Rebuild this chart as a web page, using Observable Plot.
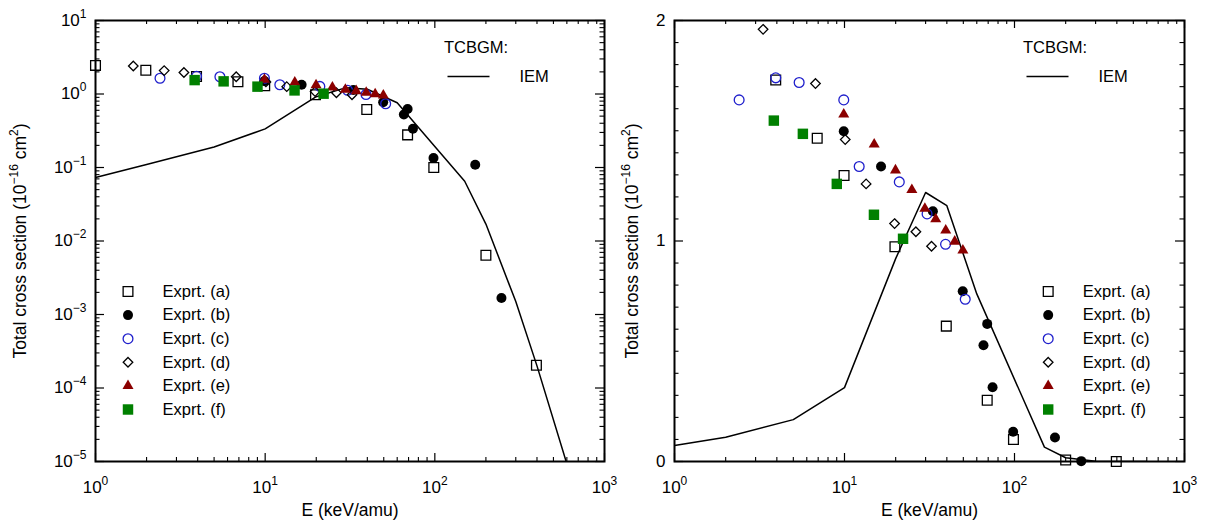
<!DOCTYPE html>
<html><head><meta charset="utf-8">
<script src="https://cdn.jsdelivr.net/npm/d3@7"></script>
<script src="https://cdn.jsdelivr.net/npm/@observablehq/plot@0.6"></script>
<style>
body{margin:0;background:#fff;}
#wrap{position:relative;width:1205px;height:522px;overflow:hidden;background:#fff;}
#wrap svg{position:absolute;top:0;}
</style></head><body><div id="wrap"></div>
<script>
// ---- data (E in keV/amu, cross section in 1e-16 cm^2) ----
const aE = [1.0, 1.98, 3.94, 6.91, 9.94, 19.8, 39.7, 69.1, 98.6, 200, 397];
const aS = [2.45, 2.10, 1.73, 1.466, 1.297, 0.974, 0.614, 0.278, 0.10, 0.0064, 0.000204];
const bE = [9.9, 16.4, 33.1, 49.6, 65.7, 69.1, 74.3, 98.2, 173, 247];
const bS = [1.498, 1.338, 1.135, 0.772, 0.527, 0.624, 0.337, 0.135, 0.109, 0.00168];
const cE = [2.40, 3.94, 5.41, 9.9, 12.2, 21.0, 30.6, 39.3, 51.3];
const cS = [1.64, 1.74, 1.719, 1.64, 1.338, 1.268, 1.123, 0.985, 0.736];
const dE = [1.67, 2.54, 3.32, 6.75, 10.1, 13.4, 19.7, 26.3, 32.5];
const dS = [2.40, 2.08, 1.96, 1.714, 1.46, 1.259, 1.079, 1.042, 0.976];
const eE = [9.9, 14.95, 19.95, 24.9, 29.7, 34.4, 39.4, 44.5, 49.7];
const eS = [1.574, 1.438, 1.321, 1.232, 1.147, 1.099, 1.048, 0.998, 0.958];
const fE = [3.84, 5.69, 9.01, 14.9, 22.1];
const fS = [1.546, 1.486, 1.259, 1.119, 1.01];
const iemE = [1, 2, 5, 10, 20, 30, 40, 60, 150, 200, 300, 400, 600];
const iemS = [0.073, 0.11, 0.19, 0.335, 0.92, 1.22, 1.16, 0.76, 0.065, 0.017, 0.0015, 0.0002, 0.0000093];

const seriesLabels = ["Exprt. (a)", "Exprt. (b)", "Exprt. (c)", "Exprt. (d)", "Exprt. (e)", "Exprt. (f)"];
const xMajor = [1, 10, 100, 1000];
const xMinor = [2,3,4,5,6,7,8,9,20,30,40,50,60,70,80,90,200,300,400,500,600,700,800,900];
const yLogMajor = [1e-5, 1e-4, 1e-3, 1e-2, 1e-1, 1, 10];
const yLinMajor = [0, 1, 2];
const yLinMinor = [0.1,0.2,0.3,0.4,0.5,0.6,0.7,0.8,0.9,1.1,1.2,1.3,1.4,1.5,1.6,1.7,1.8,1.9];
const yTitle = "Total cross section (10^{\u221216} cm^{2})";
const xTitle = "E (keV/amu)";

const FONT = "'Liberation Sans', Arial, Helvetica, sans-serif";
const BLUE = "#1f1fcc", DARKRED = "#8b0000", GREEN = "#008000";

const styles = [
  {symbol: "square2", r: 6.2, fill: "none", stroke: "black", strokeWidth: 1.3},
  {symbol: "circle", r: 5, fill: "black", stroke: "none"},
  {symbol: "circle", r: 4.9, fill: "none", stroke: BLUE, strokeWidth: 1.3},
  {symbol: "diamond2", r: 4.3, fill: "none", stroke: "black", strokeWidth: 1.3},
  {symbol: "triangle", r: 4.1, fill: DARKRED, stroke: "none"},
  {symbol: "square", r: 5.9, fill: GREEN, stroke: "none"}
];
const seriesE = [aE, bE, cE, dE, eE, fE];
const seriesS = [aS, bS, cS, dS, eS, fS];
const rows = (E, S) => E.map((e, i) => ({E: e, S: S[i]}));
const iem = rows(iemE, iemS);

const hline = {draw(ctx) { ctx.moveTo(-21, 0); ctx.lineTo(21, 0); }};

function logMinor(decades) {
  const out = [];
  for (const d of decades) for (let k = 2; k <= 9; k++) out.push(d * k);
  return out;
}
function expLabel(d) {
  const p = Math.round(Math.log10(d));
  return "10^{" + String(p).replace("-", "\u2212") + "}";
}

function supify(svg) {
  d3.select(svg).selectAll("text").each(function() {
    const t = this.textContent;
    if (!t.includes("^{")) return;
    const sel = d3.select(this);
    sel.text(null);
    const re = /\^\{([^}]*)\}/g;
    let last = 0, m, pending = 0;
    const add = (s, sup) => {
      if (!s) return;
      const ts = sel.append("tspan").text(s);
      if (sup) { ts.attr("font-size", 12).attr("dy", -8); pending = 8; }
      else if (pending) { ts.attr("dy", pending); pending = 0; }
    };
    while ((m = re.exec(t))) {
      add(t.slice(last, m.index), false);
      add(m[1], true);
      last = re.lastIndex;
    }
    add(t.slice(last), false);
  });
}

const H = 522, MT = 20, MB = 61, FH = H - MT - MB;

function panel({width, marginLeft, marginRight, y, yMajor, yMinor, yFormat, yPad, titleDx, legendDx, filterMax}) {
  const FW = width - marginLeft - marginRight;
  const marks = [];
  // ticks (inward, all four sides)
  marks.push(Plot.tickX(xMajor, {x: d => d, insetTop: FH - 8, strokeWidth: 1.2}));
  marks.push(Plot.tickX(xMajor, {x: d => d, insetBottom: FH - 8, strokeWidth: 1.2}));
  marks.push(Plot.tickX(xMinor, {x: d => d, insetTop: FH - 4, strokeWidth: 1.1}));
  marks.push(Plot.tickX(xMinor, {x: d => d, insetBottom: FH - 4, strokeWidth: 1.1}));
  marks.push(Plot.tickY(yMajor, {y: d => d, insetRight: FW - 9, strokeWidth: 1.2}));
  marks.push(Plot.tickY(yMajor, {y: d => d, insetLeft: FW - 9, strokeWidth: 1.2}));
  marks.push(Plot.tickY(yMinor, {y: d => d, insetRight: FW - 4.5, strokeWidth: 1.1}));
  marks.push(Plot.tickY(yMinor, {y: d => d, insetLeft: FW - 4.5, strokeWidth: 1.1}));
  marks.push(Plot.frame({stroke: "black", strokeWidth: 2}));
  // IEM curve
  marks.push(Plot.line(iem, {x: "E", y: "S", stroke: "black", strokeWidth: 1.5, clip: true}));
  // data
  seriesE.forEach((E, k) => {
    const data = rows(E, seriesS[k]).filter(d => d.S <= filterMax);
    marks.push(Plot.dot(data, {x: "E", y: "S", ...styles[k]}));
  });
  // legend of experiments
  seriesLabels.forEach((lab, k) => {
    const dy = 271 + k * 23.6;
    marks.push(Plot.dot([lab], {x: null, y: null, frameAnchor: "top-left", dx: legendDx, dy, ...styles[k]}));
    marks.push(Plot.text([lab], {x: null, y: null, text: d => d, frameAnchor: "top-left", dx: legendDx + 34.5, dy,
      textAnchor: "start", lineAnchor: "middle", fontSize: 16.5}));
  });
  // TCBGM legend
  marks.push(Plot.text(["TCBGM:"], {x: null, y: null, text: d => d, frameAnchor: "top-left", dx: 348.5, dy: 27,
    textAnchor: "start", lineAnchor: "middle", fontSize: 16.5}));
  marks.push(Plot.dot(["IEM"], {x: null, y: null, frameAnchor: "top-left", dx: 373, dy: 56, symbol: hline,
    fill: "none", stroke: "black", strokeWidth: 1.4}));
  marks.push(Plot.text(["IEM"], {x: null, y: null, text: d => d, frameAnchor: "top-left", dx: 424, dy: 56,
    textAnchor: "start", lineAnchor: "middle", fontSize: 16.5}));
  // axes
  marks.push(Plot.axisX({ticks: xMajor, tickFormat: expLabel, tickSize: 0, tickPadding: 19, label: null, fontSize: 17}));
  marks.push(Plot.axisY({ticks: yMajor, tickFormat: yFormat, tickSize: 0, tickPadding: yPad, label: null, fontSize: 17}));
  marks.push(Plot.text([xTitle], {x: null, y: null, text: d => d, frameAnchor: "bottom", dy: 49,
    textAnchor: "middle", lineAnchor: "middle", fontSize: 17.5}));
  marks.push(Plot.text([yTitle], {x: null, y: null, text: d => d, frameAnchor: "left", dx: titleDx, rotate: -90,
    textAnchor: "middle", lineAnchor: "middle", fontSize: 17.5}));

  const svg = Plot.plot({
    width, height: H, marginTop: MT, marginBottom: MB, marginLeft, marginRight,
    x: {type: "log", domain: [1, 1000]},
    y,
    style: {fontFamily: FONT, fontSize: "17px", background: "transparent", color: "black", overflow: "visible"},
    marks
  });
  supify(svg);
  return svg;
}

const left = panel({
  width: 610, marginLeft: 95, marginRight: 6,
  y: {type: "log", domain: [1e-5, 10]},
  yMajor: yLogMajor, yMinor: logMinor([1e-5, 1e-4, 1e-3, 1e-2, 1e-1, 1]),
  yFormat: expLabel, yPad: 9, titleDx: -75, legendDx: 32.5, filterMax: Infinity
});
const right = panel({
  width: 600, marginLeft: 69, marginRight: 21,
  y: {type: "linear", domain: [0, 2]},
  yMajor: yLinMajor, yMinor: yLinMinor,
  yFormat: d => String(d), yPad: 9, titleDx: -42, legendDx: 373.7, filterMax: 2
});
left.style.left = "0px";
right.style.left = "605px";
document.getElementById("wrap").append(left, right);
</script></body></html>
